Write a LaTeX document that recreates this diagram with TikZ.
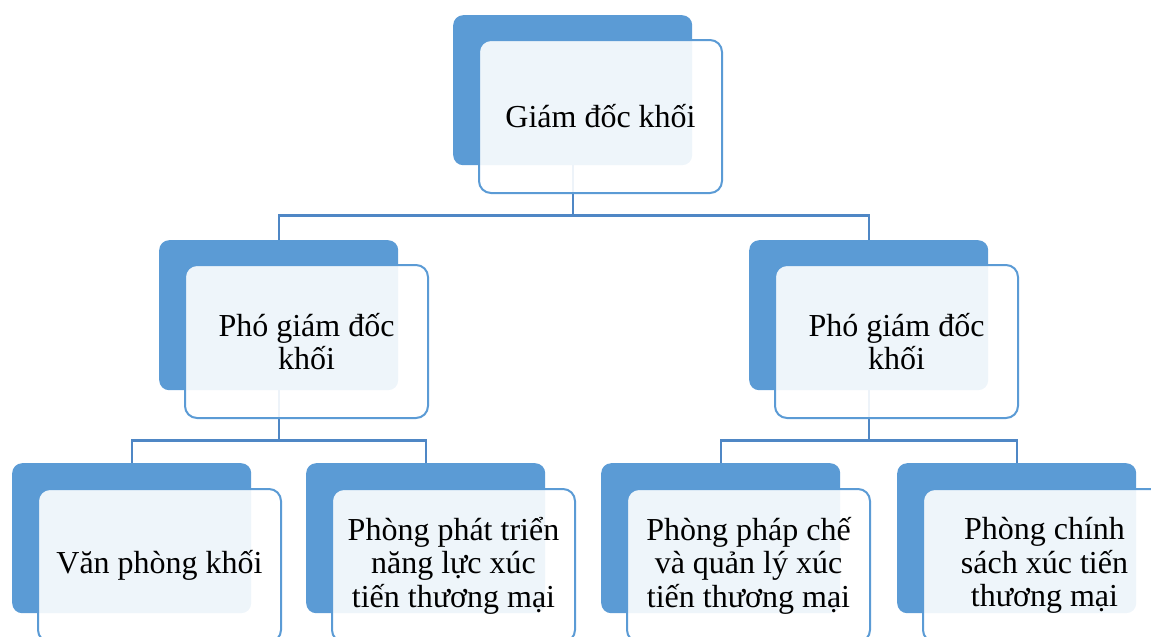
\documentclass[tikz,border=0pt]{standalone}
\usepackage{fontspec}
\setmainfont{Liberation Serif}
\definecolor{accent}{HTML}{5B9BD5}
\definecolor{conn}{HTML}{4F87C5}
\tikzset{
  darkbox/.style={anchor=north west, fill=accent, draw=none, rounded corners=10pt,
    minimum width=239pt, minimum height=150pt, inner sep=0pt},
  lightbox/.style={anchor=north west, fill=white, fill opacity=0.9, text opacity=1,
    draw=accent, line width=2pt, rounded corners=12pt,
    minimum width=243pt, minimum height=153pt, inner sep=0pt, align=center,
    font=\fontsize{32}{33.5}\selectfont},
  conline/.style={draw=conn, line width=2.2pt}
}
\begin{document}
\begin{tikzpicture}[x=1pt,y=-1pt]
\useasboundingbox (0,0) rectangle (1151,637);
\clip (0,0) rectangle (1151,637);
% dark back boxes
\node[darkbox] (gd-d) at (453,15) {};
\node[darkbox] (pl-d) at (159,240) {};
\node[darkbox] (pr-d) at (749,240) {};
\node[darkbox] (b1-d) at (12,463) {};
\node[darkbox] (b2-d) at (306,463) {};
\node[darkbox] (b3-d) at (601,463) {};
\node[darkbox] (b4-d) at (897,463) {};
% connectors
\draw[conline] (gd-d.south) -- ++(0,50) -| (pl-d.north);
\draw[conline] (gd-d.south) -- ++(0,50) -| (pr-d.north);
\draw[conline] (pl-d.south) -- ++(0,50) -| (b1-d.north);
\draw[conline] (pl-d.south) -- ++(0,50) -| (b2-d.north);
\draw[conline] (pr-d.south) -- ++(0,50) -| (b3-d.north);
\draw[conline] (pr-d.south) -- ++(0,50) -| (b4-d.north);
% front boxes
\node[lightbox] (gd) at (478,39) {Giám đốc khối};
\node[lightbox] (pl) at (184,264) {Phó giám đốc\\khối};
\node[lightbox] (pr) at (774,264) {Phó giám đốc\\khối};
\node[lightbox] (b1) at (37,488) {Văn phòng khối};
\node[lightbox] (b2) at (331,488) {Phòng phát triển\\năng lực xúc\\tiến thương mại};
\node[lightbox] (b3) at (626,488) {Phòng pháp chế\\và quản lý xúc\\tiến thương mại};
\node[lightbox] (b4) at (922,488) {Phòng chính\\sách xúc tiến\\thương mại};
\end{tikzpicture}
\end{document}
